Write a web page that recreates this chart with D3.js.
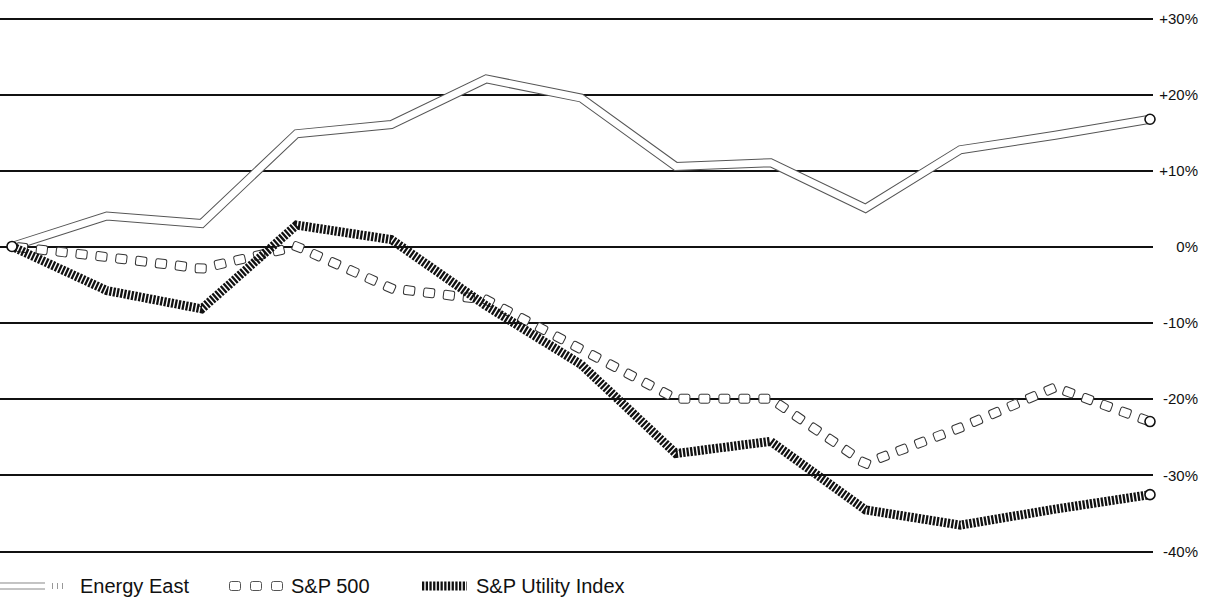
<!doctype html>
<html lang="en">
<head>
<meta charset="utf-8">
<title>Performance graph</title>
<script src="https://cdn.jsdelivr.net/npm/d3@7/dist/d3.min.js"></script>
<style>
  body { margin: 0; background: #fff; }
  svg { display: block; font-family: "Liberation Sans", Arial, sans-serif; }
  .grid line { stroke: #111; stroke-width: 2; shape-rendering: crispEdges; }
  .grid text { font-size: 15px; fill: #111; }
  .legend text { font-size: 20px; fill: #111; }
</style>
</head>
<body>
<div id="viz"></div>
<script>
// periods along the x axis (no labels in the original)
var periods = [0, 1, 2, 3, 4, 5, 6, 7, 8, 9, 10, 11, 12];

// cumulative change in %
var energyEast = [0, 4, 3, 14.8, 16, 22, 19.5, 10.5, 11, 5, 12.7, 14.6, 16.7];
var sp500      = [0, -1.4, -2.9, 0, -5.5, -7, -13.5, -20, -20, -28.5, -23.8, -18.5, -23];
var spUtility  = [0, -5.8, -8.2, 2.8, 0.9, -7.8, -15.5, -27.2, -25.6, -34.6, -36.6, -34.5, -32.6];

var yTicks = [30, 20, 10, 0, -10, -20, -30, -40];
var yLabels = ["+30%", "+20%", "+10%", "0%", "-10%", "-20%", "-30%", "-40%"];

var legendNames = ["Energy East", "S&P 500", "S&P Utility Index"];

var w = 1205, h = 602;
var gridEnd = 1153;

var svg = d3.select("#viz").append("svg")
  .attr("width", w)
  .attr("height", h);

var x = d3.scalePoint().domain(periods).range([12, 1150]);
var y = d3.scaleLinear().domain([-40, 30]).range([551, 18]);

// gridlines + labels on the right
var grid = svg.append("g")
  .attr("class", "grid")
  .call(d3.axisRight(y)
    .tickValues(yTicks)
    .tickSize(gridEnd)
    .tickFormat(function(d, i) { return yLabels[i]; }));
grid.select(".domain").remove();
grid.selectAll("text")
  .attr("x", 1198)
  .attr("dy", "0.35em")
  .attr("text-anchor", "end");

var line = d3.line()
  .x(function(d, i) { return x(periods[i]); })
  .y(function(d) { return y(d); });

// Energy East: hollow double line
svg.append("path")
  .datum(energyEast)
  .attr("d", line)
  .attr("fill", "none")
  .attr("stroke", "#555")
  .attr("stroke-width", 9)
  .attr("stroke-linejoin", "miter");
svg.append("path")
  .datum(energyEast)
  .attr("d", line)
  .attr("fill", "none")
  .attr("stroke", "#fff")
  .attr("stroke-width", 7)
  .attr("stroke-linejoin", "miter");

// S&P 500: little rounded boxes along the path
var spPath = svg.append("path")
  .datum(sp500)
  .attr("d", line)
  .attr("fill", "none")
  .attr("stroke", "none");

var node = spPath.node();
var total = node.getTotalLength();
var boxes = [];
for (var s = 10; s < total - 6; s += 20) {
  var p0 = node.getPointAtLength(Math.max(0, s - 2));
  var p1 = node.getPointAtLength(Math.min(total, s + 2));
  var p = node.getPointAtLength(s);
  boxes.push({x: p.x, y: p.y, a: Math.atan2(p1.y - p0.y, p1.x - p0.x) * 180 / Math.PI});
}
svg.append("g").selectAll("rect")
  .data(boxes)
  .enter()
  .append("rect")
  .attr("x", -5.5)
  .attr("y", -4.5)
  .attr("width", 11)
  .attr("height", 9)
  .attr("rx", 2)
  .attr("fill", "#fff")
  .attr("stroke", "#333")
  .attr("stroke-width", 1)
  .attr("transform", function(d) { return "translate(" + d.x + "," + d.y + ")rotate(" + d.a + ")"; });

// S&P Utility Index: heavy hatched line
svg.append("path")
  .datum(spUtility)
  .attr("d", line)
  .attr("fill", "none")
  .attr("stroke", "#111")
  .attr("stroke-width", 9)
  .attr("stroke-dasharray", "2.3 1.4");

// start and end circles
var last = periods.length - 1;
var ends = [[periods[0], 0], [periods[last], energyEast[last]], [periods[last], sp500[last]], [periods[last], spUtility[last]]];
svg.append("g").selectAll("circle")
  .data(ends)
  .enter()
  .append("circle")
  .attr("cx", function(d) { return x(d[0]); })
  .attr("cy", function(d) { return y(d[1]); })
  .attr("r", 5)
  .attr("fill", "#fff")
  .attr("stroke", "#111")
  .attr("stroke-width", 1.6);

// legend
var lg = svg.append("g").attr("class", "legend");
var ly = 586;

lg.append("line").attr("x1", 0).attr("x2", 45).attr("y1", ly).attr("y2", ly)
  .attr("stroke", "#888").attr("stroke-width", 7);
lg.append("line").attr("x1", 0).attr("x2", 45).attr("y1", ly).attr("y2", ly)
  .attr("stroke", "#fff").attr("stroke-width", 5);
lg.append("line").attr("x1", 52).attr("x2", 64).attr("y1", ly).attr("y2", ly)
  .attr("stroke", "#999").attr("stroke-width", 6)
  .attr("stroke-dasharray", "1 4");

[235, 256, 277].forEach(function(cx) {
  lg.append("rect")
    .attr("x", cx - 5.5).attr("y", ly - 4.5)
    .attr("width", 11).attr("height", 9).attr("rx", 2)
    .attr("fill", "#fff").attr("stroke", "#555");
});

lg.append("line").attr("x1", 422).attr("x2", 467).attr("y1", ly).attr("y2", ly)
  .attr("stroke", "#111").attr("stroke-width", 9)
  .attr("stroke-dasharray", "2.3 1.4");

lg.selectAll("text")
  .data(legendNames)
  .enter()
  .append("text")
  .attr("x", function(d, i) { return [80, 291, 476][i]; })
  .attr("y", ly)
  .attr("dy", "0.35em")
  .text(function(d) { return d; });
</script>
</body>
</html>
